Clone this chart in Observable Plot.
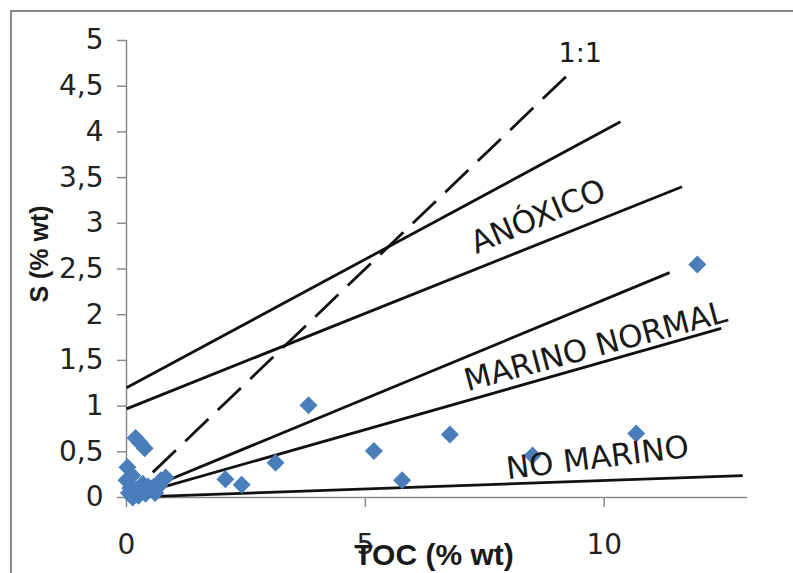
<!DOCTYPE html>
<html><head><meta charset="utf-8">
<script src="https://cdn.jsdelivr.net/npm/d3@7"></script>
<script src="https://cdn.jsdelivr.net/npm/@observablehq/plot@0.6"></script>
<style>
html,body{margin:0;padding:0;background:#fff;}
#wrap{position:relative;width:793px;height:573px;overflow:hidden;background:#fff;}
#frame{position:absolute;left:10px;top:10px;width:900px;height:700px;border-left:2px solid #8a8a8a;border-top:2px solid #8a8a8a;box-sizing:border-box;pointer-events:none;}
</style></head><body>
<div id="wrap"><div id="chart"></div><div id="frame"></div></div>
<script>
// Samples: TOC (% wt) vs S (% wt)
const tocValues = [0.19, 0.28, 0.38, 0.02, 0.0, 0.13, 0.4, 0.82, 0.69, 0.55, 0.34, 0.2, 0.08, 0.25, 0.05, 0.1, 0.12, 0.3, 0.45, 0.6, 0.72, 2.07, 2.41, 3.12, 3.81, 5.18, 5.77, 6.77, 8.5, 10.67, 11.95];
const sValues   = [0.65, 0.60, 0.54, 0.33, 0.19, 0.0, 0.04, 0.22, 0.13, 0.11, 0.15, 0.08, 0.10, 0.02, 0.05, 0.12, 0.24, 0.10, 0.12, 0.05, 0.19, 0.20, 0.14, 0.38, 1.01, 0.51, 0.19, 0.69, 0.46, 0.70, 2.55];

// Boundary lines (solid)
const lineNames = ["anoxic upper", "anoxic lower", "marine upper", "marine lower", "non-marine"];
const lineTOCStart = [0, 0, 0.3, 0.3, 0.3];
const lineSStart   = [1.2, 0.97, 0.065, 0.045, 0.006];
const lineTOCEnd   = [10.34, 11.63, 11.37, 12.45, 12.9];
const lineSEnd     = [4.11, 3.40, 2.46, 1.85, 0.24];

// 1:1 reference line (dashed)
const refTOC = [0.55, 9.35];
const refS   = [0.275, 4.68];

// Zone labels
const zoneLabels = ["ANÓXICO", "MARINO NORMAL", "NO MARINO"];
const zoneTOC = [8.62, 9.82, 9.86];
const zoneS   = [3.07, 1.65, 0.43];
const refLabel = ["1:1"];
const refLabelTOC = [9.50];
const refLabelS = [4.86];

// Axes
const xTicks = [0, 5, 10];
const yTicks = [0, 0.5, 1, 1.5, 2, 2.5, 3, 3.5, 4, 4.5, 5];
const xTitle = "TOC (% wt)";
const yTitle = "S (% wt)";

const points = tocValues.map((t, i) => ({toc: t, s: sValues[i]}));
const lines = lineNames.map((n, i) => ({name: n, x1: lineTOCStart[i], y1: lineSStart[i], x2: lineTOCEnd[i], y2: lineSEnd[i]}));
const zones = zoneLabels.map((l, i) => ({label: l, x: zoneTOC[i], y: zoneS[i]}));
const zoneAngle = {"ANÓXICO": -23, "MARINO NORMAL": -15, "NO MARINO": -7};

const chart = Plot.plot({
  width: 793, height: 573,
  marginLeft: 126, marginRight: 46, marginTop: 40, marginBottom: 76,
  x: {domain: [0, 13]},
  y: {domain: [0, 5]},
  style: {fontFamily: "DejaVu Sans", background: "transparent", overflow: "visible"},
  marks: [
    Plot.ruleX([0], {stroke: "#8a8a8a", strokeWidth: 1.5}),
    Plot.ruleY([0], {stroke: "#8a8a8a", strokeWidth: 1.5}),
    Plot.axisY({ticks: yTicks, tickSize: 9, tickPadding: 14, fontSize: 28, stroke: "#8a8a8a", strokeWidth: 1.5, fill: "#222",
      tickFormat: d => String(d).replace(".", ","), label: null}),
    Plot.axisX({ticks: xTicks, tickSize: 10, tickPadding: 27, fontSize: 28, stroke: "#8a8a8a", strokeWidth: 1.5, fill: "#222", label: null}),
    Plot.link(lines, {x1: "x1", y1: "y1", x2: "x2", y2: "y2", stroke: "#111", strokeWidth: 2.8}),
    Plot.link([0], {x1: () => refTOC[0], y1: () => refS[0], x2: () => refTOC[1], y2: () => refS[1], stroke: "#111", strokeWidth: 2.8, strokeDasharray: "32,13"}),
    Plot.dot(points, {x: "toc", y: "s", symbol: "diamond2", r: 8.1, fill: "#4a7ebb", stroke: "none"}),
    Plot.text(zones, {x: "x", y: "y", text: "label", rotate: d => zoneAngle[d.label], fontSize: 31, fill: "#1a1a1a", fontFamily: "DejaVu Sans"}),
    Plot.text(refLabel, {x: () => refLabelTOC[0], y: () => refLabelS[0], text: d => d, fontSize: 27, fill: "#1a1a1a", fontFamily: "DejaVu Sans"}),
    Plot.text([xTitle], {frameAnchor: "bottom", textAnchor: "middle", dx: -3, dy: 67, text: d => d, fontSize: 30, fontWeight: "bold", fontFamily: "Liberation Sans", fill: "#1a1a1a"}),
    Plot.text([yTitle], {frameAnchor: "left", textAnchor: "middle", dx: -87, dy: -15, rotate: -90, text: d => d, fontSize: 25, fontWeight: "bold", fontFamily: "Liberation Sans", fill: "#1a1a1a"})
  ]
});
document.getElementById("chart").appendChild(chart);
</script>
</body></html>
